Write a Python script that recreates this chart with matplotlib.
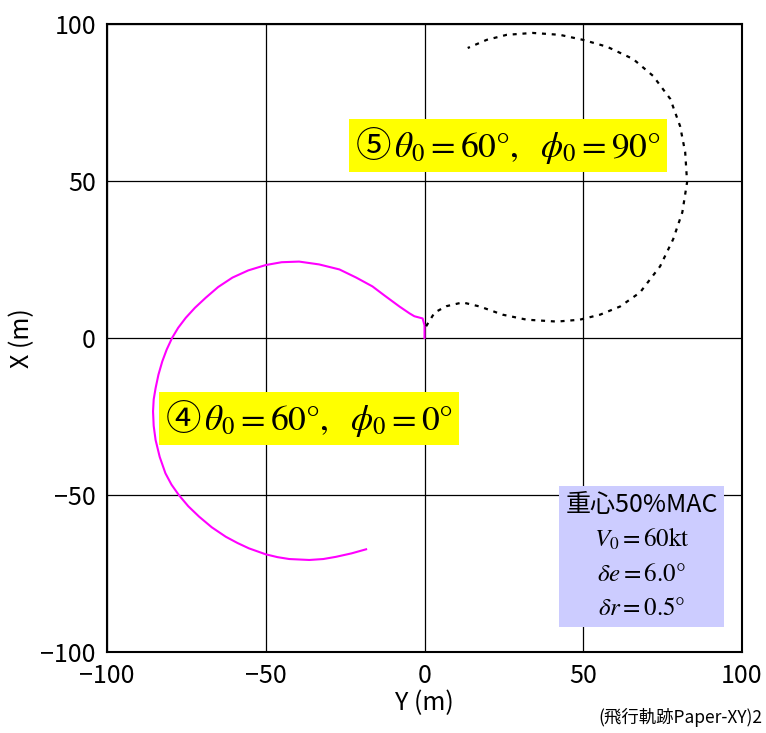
import matplotlib
matplotlib.use("Agg")
import matplotlib.pyplot as plt

plt.rcParams['font.family'] = ['Noto Sans CJK JP', 'DejaVu Sans']
plt.rcParams['mathtext.fontset'] = 'stix'

# Case 4 (theta0=60, phi0=0) trajectory: Y, X in m
y4 = [0, 0, -0.6, -3.2, -4.7, -7.9, -12.6, -16.4, -21.5, -26.8, -33.2, -39.5,
      -45.0, -50.0, -55.5, -60.5, -65.0, -68.9, -72.3, -75.2, -77.6, -79.5,
      -81.2, -82.6, -83.8, -84.7, -85.3, -85.5, -85.3, -84.7, -83.4, -81.6,
      -79.7, -77.4, -74.4, -71.0, -67.0, -62.6, -58.9, -55.3, -50.0, -46.3,
      -42.6, -36.3, -31.9, -27.9, -23.0, -18.4]
x4 = [0, 4.0, 6.2, 6.9, 7.8, 10.0, 13.5, 16.4, 19.2, 21.8, 23.4, 24.3,
      24.1, 23.2, 21.5, 19.2, 16.2, 12.8, 9.6, 6.4, 3.2, 0.0,
      -3.7, -7.5, -11.7, -16.0, -19.6, -23.4, -28.0, -32.5, -37.9, -43.1,
      -46.7, -50.0, -53.6, -56.9, -60.3, -63.3, -65.3, -67.0, -68.9, -69.8,
      -70.4, -70.7, -70.4, -69.7, -68.6, -67.3]

# Case 5 (theta0=60, phi0=90) trajectory
y5 = [0.5, 3.2, 6.9, 12.0, 17.4, 24.6, 32.2, 41.7, 48.9, 55.3, 61.6, 67.9, 74.2,
      78.3, 81.2, 82.7, 82.1, 80.5, 77.4, 72.0, 65.7, 57.5, 49.9, 42.6, 34.1,
      25.9, 19.6, 13.6]
x5 = [3.7, 8.1, 10.1, 11.3, 10.0, 7.4, 5.8, 5.2, 5.8, 7.4, 10.0, 14.5, 22.8,
      31.4, 40.0, 49.6, 59.1, 67.4, 76.1, 83.4, 88.8, 92.7, 94.9, 96.5, 97.1,
      96.5, 94.9, 92.3]

ticks = [-100, -50, 0, 50, 100]

fig = plt.figure(figsize=(7.66, 7.33), dpi=100)
ax = fig.add_axes([0.1397, 0.1105, 0.829, 0.857])

ax.plot(y4, x4, color='#ff00ff', lw=1.5, zorder=3, solid_joinstyle='round')
ax.plot(y5, x5, color='black', lw=1.6, dashes=(1.8, 2.6), zorder=3)

ax.set_xlim(-100, 100)
ax.set_ylim(-100, 100)
ax.set_xticks(ticks)
ax.set_yticks(ticks)
ax.grid(True, color='black', lw=0.9)
ax.set_axisbelow(True)
ax.tick_params(length=0, labelsize=18, pad=8)
for s in ax.spines.values():
    s.set_linewidth(1.5)

ax.set_xlabel('Y (m)', fontsize=18, labelpad=1)
ax.set_ylabel('X (m)', fontsize=18, labelpad=4)

fam = ['Noto Sans CJK JP', 'DejaVu Sans']
ax.text(26.2, 61.2, '⑤$\\,\\theta_0=60°,\\ \\ \\phi_0=90°$', fontsize=25.5, family=fam,
        ha='center', va='center', zorder=4,
        bbox=dict(boxstyle='square,pad=0.17', fc='#ffff00', ec='none'))
ax.text(-36.3, -25.6, '④$\\,\\theta_0=60°,\\ \\ \\phi_0=0°$', fontsize=25.5, family=fam,
        ha='center', va='center', zorder=4,
        bbox=dict(boxstyle='square,pad=0.17', fc='#ffff00', ec='none'))

ax.text(68.4, -69.6, '重心50%MAC\n$V_0=60\\mathrm{kt}$\n$\\delta e=6.0°$\n$\\delta r=0.5°$',
        fontsize=18, family=fam, ha='center', va='center', linespacing=1.4,
        zorder=4,
        bbox=dict(boxstyle='square,pad=0.25', fc='#ccccff', ec='none'))

fig.text(0.995, 0.008, '(飛行軌跡Paper-XY)2', fontsize=12.5, ha='right', va='bottom')

fig.savefig('out.png', dpi=100)
